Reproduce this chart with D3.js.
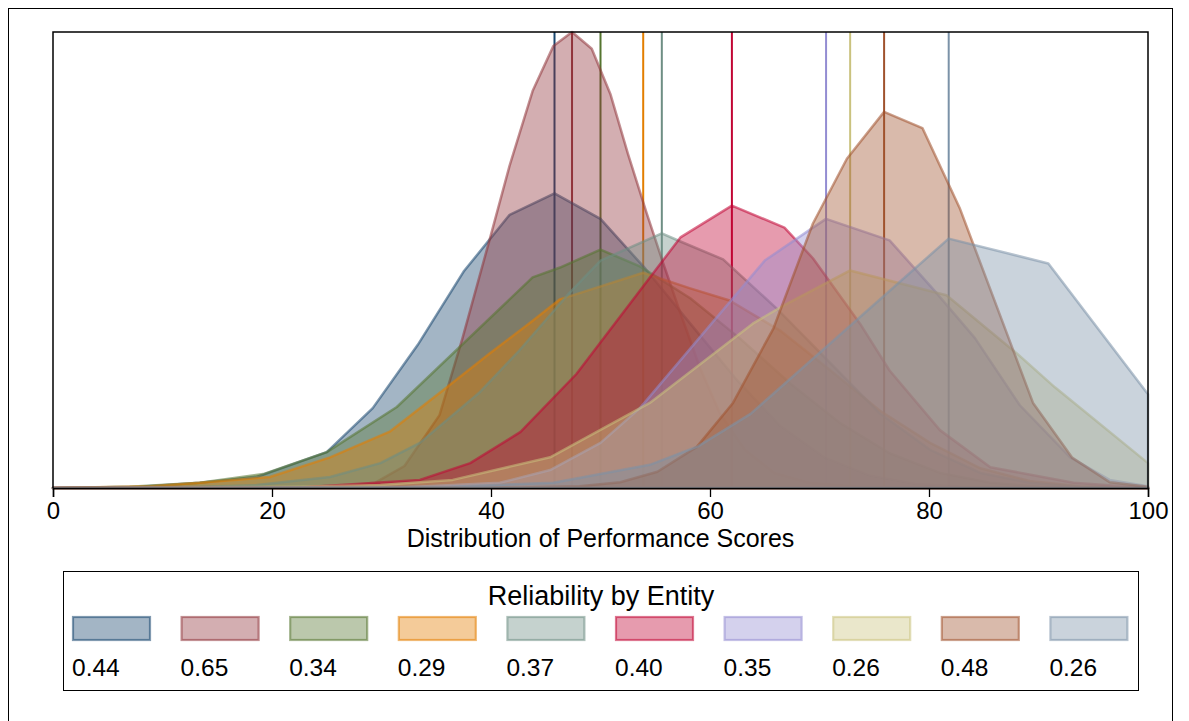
<!DOCTYPE html>
<html><head><meta charset="utf-8">
<script src="https://cdn.jsdelivr.net/npm/d3@7"></script>
<style>body{margin:0;background:#fff}svg{display:block}text{font-family:"Liberation Sans",Arial,sans-serif;fill:#000}</style>
</head><body><svg id="c" width="1189" height="721"></svg>
<script>
// ---- data ----
const reliability = ["0.44","0.65","0.34","0.29","0.37","0.40","0.35","0.26","0.48","0.26"];
const colors = ["#1a476f","#90353b","#55752f","#e37e00","#6e8e84","#c10534","#938dd2","#cac27e","#a0522d","#7b92a8"];
const means = [45.8, 47.4, 50.0, 53.9, 55.6, 62.0, 70.6, 72.8, 75.9, 81.8];
const xTicks = [0, 20, 40, 60, 80, 100];

const dens1 = [[0,0],[7.9,0.0002],[13.4,0.0009],[18.6,0.0019],[25.0,0.0062],[29.2,0.0138],[33.3,0.0247],[37.5,0.0374],[41.7,0.0472],[45.8,0.0509],[50.0,0.0465],[54.1,0.0379],[58.2,0.0284],[62.3,0.0190],[66.4,0.0107],[70.5,0.0052],[74.6,0.0021],[78.7,0.0007],[82.8,0.0002],[100,0]];
const dens2 = [[0,0],[25.3,0.0001],[29.4,0.0009],[32.1,0.0038],[35.3,0.0126],[37.4,0.0259],[39.9,0.0431],[41.7,0.0557],[43.8,0.0686],[45.7,0.0764],[47.4,0.0788],[49.2,0.0759],[50.9,0.0681],[52.5,0.0578],[54.2,0.0476],[55.7,0.0390],[57.3,0.0302],[59.1,0.0207],[60.9,0.0129],[63.2,0.0066],[65.9,0.0026],[69.1,0.0009],[73.7,0.0002],[100,0]];
const dens3 = [[0,0],[7.0,0.0002],[13.4,0.0009],[19.2,0.0024],[25.0,0.0062],[31.4,0.0140],[43.8,0.0364],[46.3,0.0381],[50.0,0.0412],[53.6,0.0383],[58.2,0.0328],[62.7,0.0259],[67.3,0.0181],[71.9,0.0112],[76.4,0.0060],[81.0,0.0026],[85.6,0.0009],[90.1,0.0002],[100,0]];
const dens4 = [[0,0],[8.9,0.0003],[13.4,0.0009],[19.8,0.0019],[25.3,0.0053],[30.8,0.0098],[35.3,0.0164],[39.9,0.0233],[43.6,0.0286],[46.3,0.0326],[53.9,0.0372],[58.2,0.0345],[61.8,0.0324],[66.4,0.0272],[71.0,0.0203],[75.5,0.0134],[80.1,0.0078],[84.7,0.0034],[89.2,0.0012],[93.8,0.0003],[100,0]];
const dens5 = [[0,0],[13.4,0.0002],[18.6,0.0005],[25.3,0.0019],[29.9,0.0043],[33.5,0.0078],[39.0,0.0166],[42.6,0.0238],[47.1,0.0336],[50.0,0.0393],[55.6,0.0440],[57.3,0.0426],[61.2,0.0395],[66.1,0.0310],[71.0,0.0216],[75.5,0.0129],[80.1,0.0066],[84.7,0.0026],[89.2,0.0009],[93.8,0.0002],[100,0]];
const dens6 = [[0,0],[22.6,0.0001],[33.5,0.0014],[38.1,0.0043],[42.7,0.0097],[47.8,0.0197],[57.3,0.0433],[62.0,0.0488],[66.8,0.0450],[69.4,0.0397],[73.7,0.0284],[76.4,0.0203],[81.0,0.0100],[85.6,0.0036],[93.2,0.0009],[100,0]];
const dens7 = [[0,0],[31.7,0.0001],[40.8,0.0009],[45.4,0.0031],[50.0,0.0078],[53.6,0.0138],[65.0,0.0393],[69.4,0.0450],[70.6,0.0465],[76.4,0.0428],[80.5,0.0341],[84.2,0.0259],[88.3,0.0143],[92.9,0.0053],[96.5,0.0014],[100,0.0003]];
const dens8 = [[0,0],[22.6,0.0002],[29.9,0.0005],[36.5,0.0014],[45.4,0.0053],[54.5,0.0147],[63.9,0.0284],[66.4,0.0312],[72.8,0.0376],[81.6,0.0333],[88.0,0.0233],[91.5,0.0174],[100,0.0043]];
const dens9 = [[0,0],[42.6,0.0001],[48.1,0.0003],[51.8,0.0010],[55.2,0.0028],[58.8,0.0071],[62.1,0.0147],[65.8,0.0276],[69.4,0.0457],[72.5,0.0569],[75.9,0.0650],[79.4,0.0622],[82.8,0.0484],[89.5,0.0147],[93.1,0.0052],[96.5,0.0010],[100,0.0002]];
const dens10 = [[0,0],[36.3,0.0002],[45.7,0.0009],[54.5,0.0040],[58.9,0.0072],[63.7,0.0128],[81.8,0.0431],[90.9,0.0388],[100,0.0162]];
const densities = [dens1,dens2,dens3,dens4,dens5,dens6,dens7,dens8,dens9,dens10];

// ---- layout ----
const svg = d3.select("#c");
const L = 53, R = 1148, T = 32, B = 488;
const x = d3.scaleLinear().domain([0,100]).range([L,R]);
const yMax = d3.max(densities, d => d3.max(d, p => p[1]));
const y = d3.scaleLinear().domain([0,yMax]).range([B,T]);

// outer frame
svg.append("rect").attr("x",8.5).attr("y",8.5).attr("width",1164).attr("height",720)
  .attr("fill","none").attr("stroke","#000").attr("stroke-width",1);

// mean lines under areas
svg.append("g").selectAll("line").data(means).join("line")
  .attr("x1",d=>x(d)).attr("x2",d=>x(d)).attr("y1",T).attr("y2",B)
  .attr("stroke",(d,i)=>colors[i]).attr("stroke-width",2);

const area = d3.area().x(d=>x(d[0])).y0(B).y1(d=>y(d[1]));
svg.append("g").selectAll("path").data(densities).join("path")
  .attr("d",d=>area(d)+"Z")
  .attr("fill",(d,i)=>colors[i]).attr("fill-opacity",0.4)
  .attr("stroke",(d,i)=>colors[i]).attr("stroke-opacity",0.55)
  .attr("stroke-width",2.5).attr("stroke-linejoin","round");

// plot frame
svg.append("path").attr("d",`M${L},${B}V${T}H${R}V${B}`).attr("fill","none").attr("stroke","#000").attr("stroke-width",1.5);

// x axis
const ax = svg.append("g").attr("transform",`translate(0,${B})`)
  .call(d3.axisBottom(x).tickValues(xTicks).tickSize(9).tickPadding(5).tickFormat(d3.format("d")));
ax.select(".domain").attr("stroke","#000").attr("stroke-width",1.5);
ax.selectAll(".tick line").attr("stroke","#000").attr("stroke-width",1.3);
ax.selectAll(".tick text").attr("font-size",24).attr("font-family","Liberation Sans, Arial, sans-serif").attr("fill","#000");

svg.append("text").attr("x",(L+R)/2).attr("y",547).attr("text-anchor","middle").attr("font-size",25)
  .text("Distribution of Performance Scores");

// legend
const lg = svg.append("g");
lg.append("rect").attr("x",63.5).attr("y",571.5).attr("width",1075).attr("height",119)
  .attr("fill","none").attr("stroke","#000").attr("stroke-width",1);
lg.append("text").attr("x",601).attr("y",605).attr("text-anchor","middle").attr("font-size",27)
  .text("Reliability by Entity");
const keyX = i => 73 + i*108.6;
lg.selectAll("rect.key").data(reliability).join("rect").attr("class","key")
  .attr("x",(d,i)=>keyX(i)).attr("y",617).attr("width",77).attr("height",23)
  .attr("fill",(d,i)=>colors[i]).attr("fill-opacity",0.4)
  .attr("stroke",(d,i)=>colors[i]).attr("stroke-opacity",0.55).attr("stroke-width",2.2);
lg.selectAll("text.lab").data(reliability).join("text").attr("class","lab")
  .attr("x",(d,i)=>keyX(i)-1).attr("y",676).attr("font-size",24.5).text(d=>d);
</script></body></html>
